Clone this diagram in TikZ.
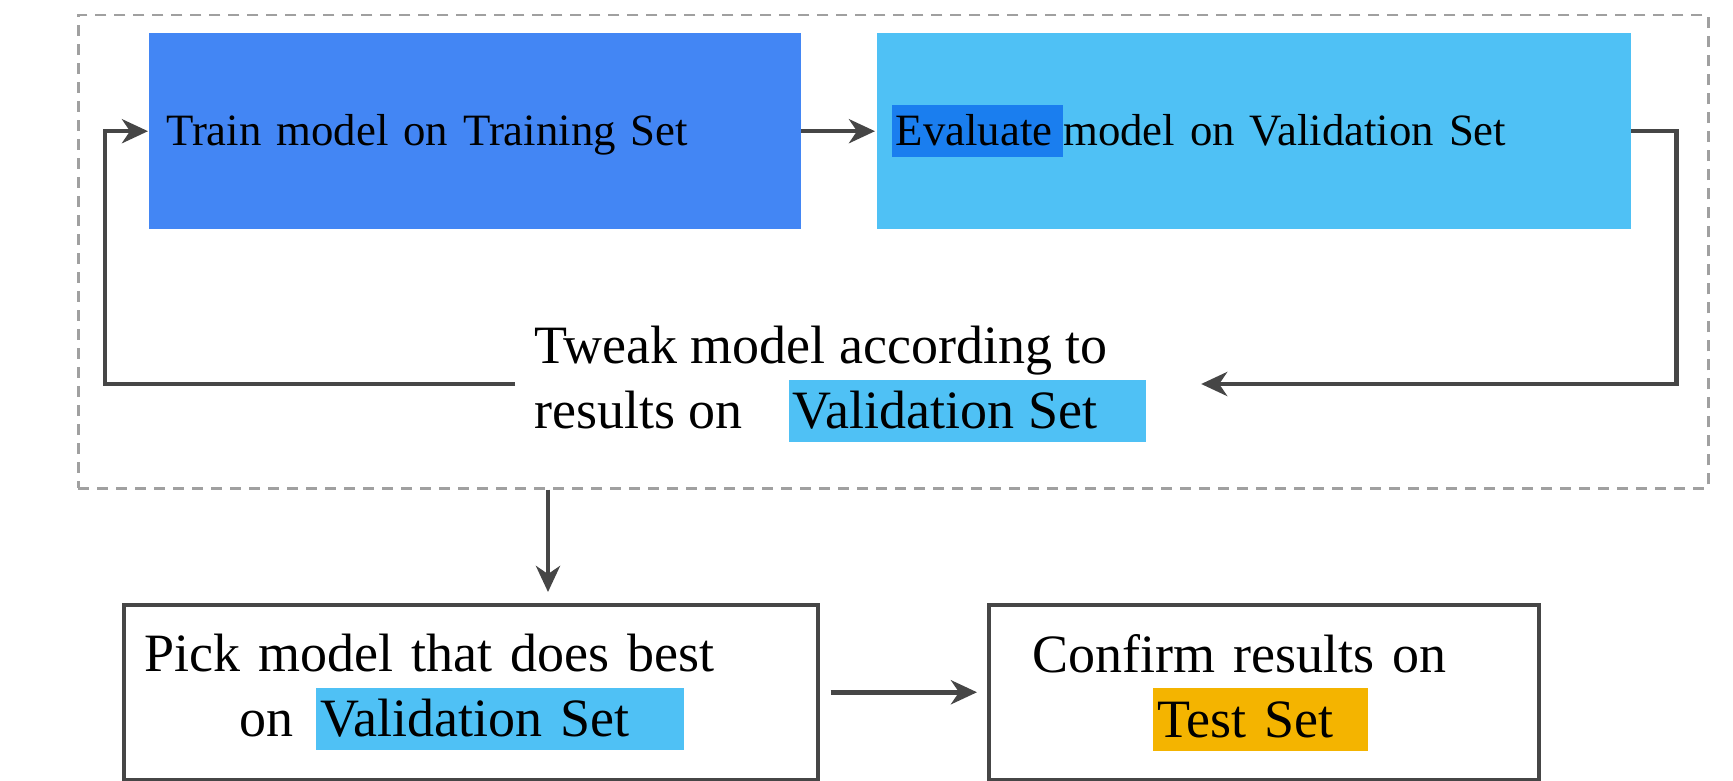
\documentclass[tikz,border=0pt]{standalone}
\usepackage{fontspec}
\setmainfont{Liberation Serif}
\usetikzlibrary{arrows.meta}
\definecolor{trainblue}{HTML}{4386F4}
\definecolor{valblue}{HTML}{4FC1F5}
\definecolor{evalblue}{HTML}{1A7EEF}
\definecolor{testamber}{HTML}{F4B400}
\definecolor{linegray}{HTML}{464646}
\definecolor{framegray}{HTML}{A0A0A0}
\newcommand{\hilite}[3]{{\setlength{\fboxsep}{0pt}\colorbox{#1}{\hspace{0.08em}\rule[-0.25em]{0pt}{1.15em}#2\hspace{#3}}}}
\begin{document}
\begin{tikzpicture}[x=1pt,y=-1pt,
  topbox/.style={anchor=north west, minimum height=196pt, inner sep=0pt, align=left, text=black, font=\fontsize{44.8}{55}\selectfont},
  lowbox/.style={draw=linegray, line width=3.5pt, anchor=north west, minimum height=175pt, inner sep=0pt, align=left, font=\fontsize{54}{65}\selectfont},
  arr/.style={draw=linegray, line width=4.5pt, -{Stealth[length=26pt,width=24pt,inset=8pt]}}]
\useasboundingbox[fill=white] (0,0) rectangle (1733,781);
\node[draw=framegray, line width=2.5pt, dash pattern=on 11pt off 8pt, anchor=north west, minimum width=1630pt, minimum height=473pt, inner sep=0pt] (loop) at (77,14) {};
\node[topbox, fill=trainblue, minimum width=652pt, text width=618pt] (train) at (149,33) {\rule[-0.25em]{0pt}{1.15em}Train model on Training Set};
\node[topbox, fill=valblue, minimum width=754pt, text width=724pt] (eval) at (877,33) {\hilite{evalblue}{Evaluate}{0.24em}model on Validation Set};
\node[anchor=west, align=left, inner sep=0pt, font=\fontsize{54}{65}\selectfont] (tweak) at (534,384) {Tweak model according to\\results on\hspace{0.85em}\hilite{valblue}{Validation Set}{0.9em}};
\node[lowbox, minimum width=694pt, text width=652pt] (pick) at (122,603) {Pick model that does best\\\hspace*{95pt}on\hspace{0.42em}\hilite{valblue}{Validation Set}{1em}};
\node[lowbox, minimum width=550pt, text width=462pt] (confirm) at (987,603) {Confirm results on\\\hspace*{120pt}\hilite{testamber}{Test Set}{0.65em}};
\draw[arr, shorten >=2pt] (train.east) -- (eval.west);
\draw[arr] (eval.east) -- ++(45,0) |- ([xshift=55pt]tweak.east);
\draw[arr, shorten >=1pt] ([xshift=-19pt]tweak.west) -| ([xshift=-44pt]train.west) -- (train.west);
\draw[arr, shorten >=11pt] (548,0 |- loop.south) -- (548,0 |- pick.north);
\draw[arr, shorten <=11pt, shorten >=10pt] (pick.east) -- (confirm.west);
\end{tikzpicture}
\end{document}
